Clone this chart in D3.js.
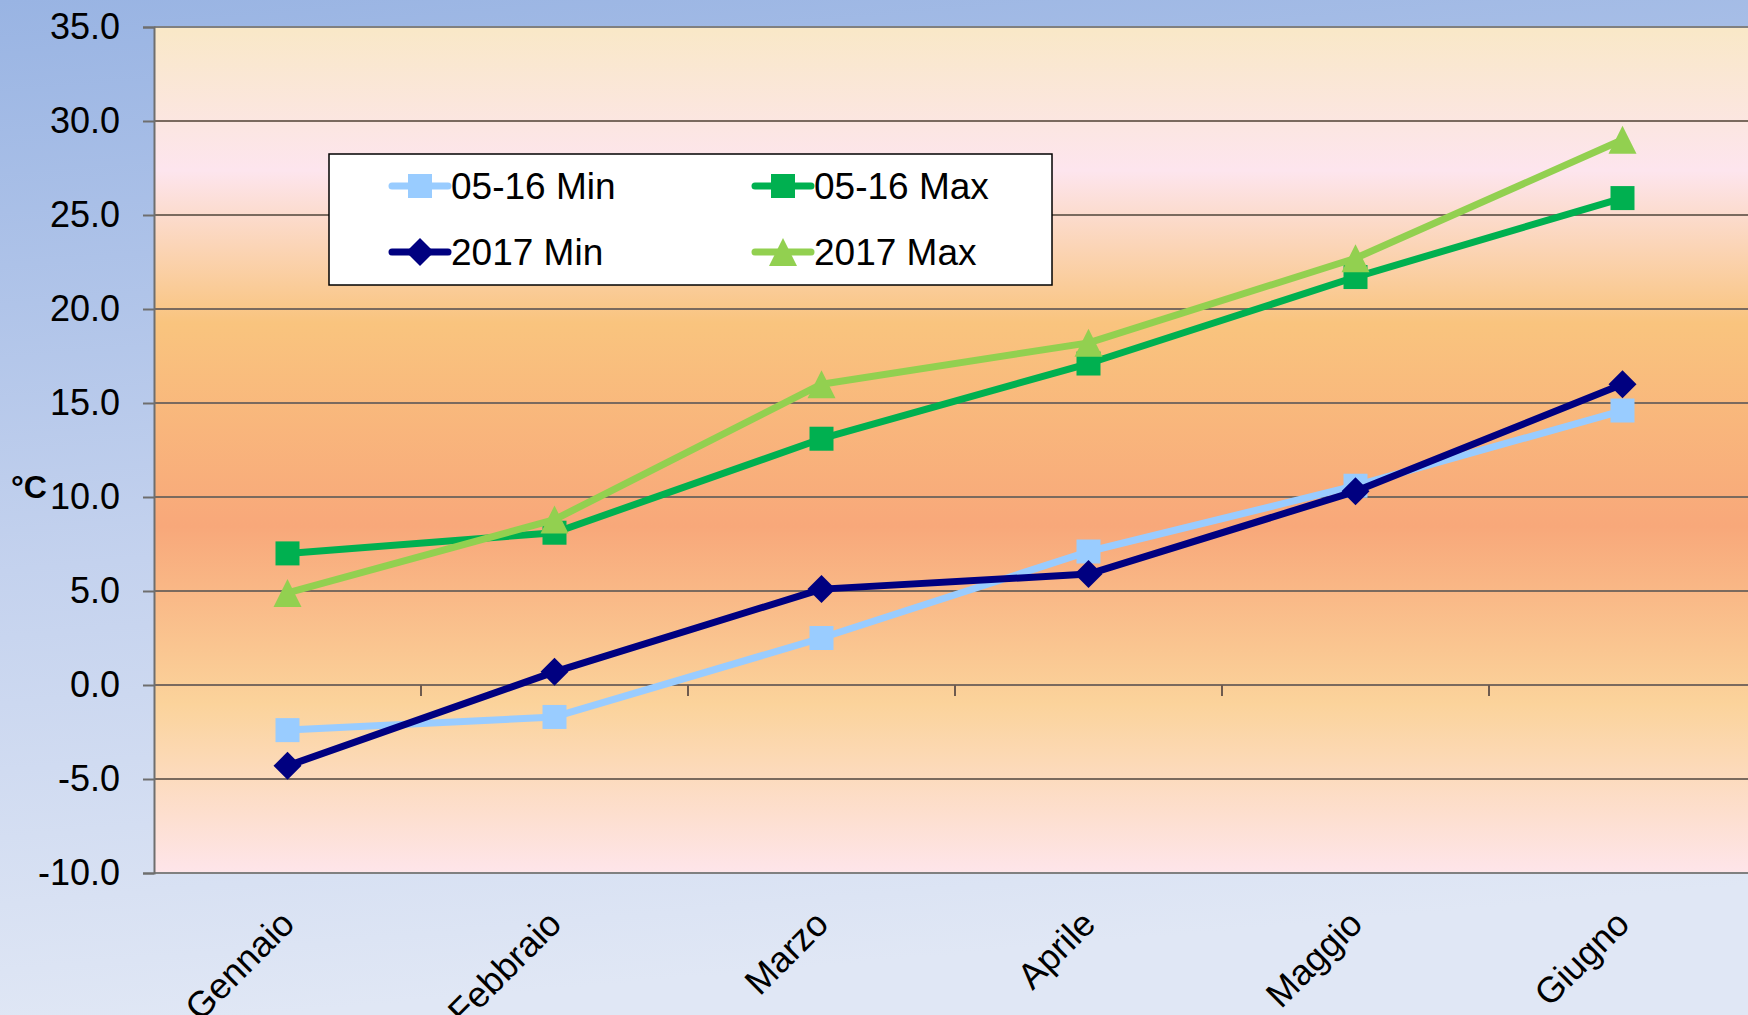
<!DOCTYPE html>
<html>
<head>
<meta charset="utf-8">
<script src="https://cdn.jsdelivr.net/npm/d3@7"></script>
<style>
  html, body { margin: 0; padding: 0; overflow: hidden; }
  svg { display: block; font-family: "Liberation Sans", Arial, sans-serif; }
</style>
</head>
<body>
<svg id="chart" width="1748" height="1015"></svg>
<script>
// data
const months = ["Gennaio", "Febbraio", "Marzo", "Aprile", "Maggio", "Giugno"];
const min0516 = [-2.4, -1.7, 2.5, 7.1, 10.6, 14.6];
const max0516 = [7.0, 8.1, 13.1, 17.1, 21.7, 25.9];
const min2017 = [-4.3, 0.7, 5.1, 5.9, 10.3, 16.0];
const max2017 = [4.9, 8.8, 16.0, 18.2, 22.7, 29.0];
const yTicks = [-10, -5, 0, 5, 10, 15, 20, 25, 30, 35];

const series = [
    {name: "05-16 Min", values: min0516, color: "#99ccff", marker: "square"},
    {name: "05-16 Max", values: max0516, color: "#00b050", marker: "square"},
    {name: "2017 Min", values: min2017, color: "#000080", marker: "diamond"},
    {name: "2017 Max", values: max2017, color: "#92d050", marker: "triangle"}
];

const W = 1748, H = 1015;
const margin = {left: 154, top: 27};
const plotBottom = 873;

const svg = d3.select("#chart");
const defs = svg.append("defs");

// outer background gradient
const bg = defs.append("linearGradient").attr("id", "bg")
    .attr("x1", 0).attr("y1", 0).attr("x2", 0.15).attr("y2", 1);
bg.append("stop").attr("offset", "0%").attr("stop-color", "#99b4e3");
bg.append("stop").attr("offset", "55%").attr("stop-color", "#c4d2ee");
bg.append("stop").attr("offset", "100%").attr("stop-color", "#e0e7f5");

// plot area gradient
const pg = defs.append("linearGradient").attr("id", "plotbg")
    .attr("x1", 0).attr("y1", 0).attr("x2", 0).attr("y2", 1);
[["0%", "#f9e8c7"], ["17%", "#fde5ee"], ["35%", "#f9c47e"],
 ["59%", "#f8a87a"], ["80%", "#fbd39b"], ["100%", "#fee5ea"]]
    .forEach(s => pg.append("stop").attr("offset", s[0]).attr("stop-color", s[1]));

svg.append("rect").attr("width", W).attr("height", H).attr("fill", "url(#bg)");

const x = d3.scaleBand().domain(months).range([margin.left, margin.left + 6 * 267]).padding(0);
const y = d3.scaleLinear().domain([-10, 35]).range([plotBottom, margin.top]);
const cx = m => x(m) + x.bandwidth() / 2;

svg.append("rect")
    .attr("x", margin.left).attr("y", margin.top)
    .attr("width", W - margin.left + 10).attr("height", plotBottom - margin.top)
    .attr("fill", "url(#plotbg)");

// gridlines
svg.append("g").selectAll("line").data(yTicks).join("line")
    .attr("x1", margin.left).attr("x2", W)
    .attr("y1", d => y(d)).attr("y2", d => y(d))
    .attr("stroke", d => (d === 35 || d === -10) ? "#808080" : "#7a6a5e")
    .attr("stroke-width", 2);

// y axis
const fmt = d3.formatLocale({decimal: ".", thousands: ",", grouping: [3], currency: ["", ""], minus: "-"}).format(".1f");
const yAxis = svg.append("g")
    .attr("transform", `translate(${margin.left},0)`)
    .call(d3.axisLeft(y).tickValues(yTicks).tickFormat(fmt).tickSize(11).tickPadding(23));
yAxis.select(".domain").attr("stroke", "#6e6e6e").attr("stroke-width", 2);
yAxis.selectAll(".tick line").attr("stroke", "#6e6e6e").attr("stroke-width", 2);
yAxis.selectAll(".tick text").attr("font-size", 36).attr("fill", "#000")
    .attr("font-family", "Liberation Sans, Arial, sans-serif");

// x tick marks at category boundaries, on the zero line
svg.append("g").selectAll("line").data(months.slice(1)).join("line")
    .attr("x1", d => x(d)).attr("x2", d => x(d))
    .attr("y1", y(0)).attr("y2", y(0) + 11)
    .attr("stroke", "#6e5a4e").attr("stroke-width", 2);

// x labels
svg.append("g").selectAll("text").data(months).join("text")
    .attr("transform", d => `translate(${cx(d) + 9},${926}) rotate(-45)`)
    .attr("text-anchor", "end")
    .attr("font-size", 36)
    .text(d => d);

// °C label
svg.append("text").attr("x", 11).attr("y", 498)
    .attr("font-size", 32).attr("font-weight", "bold").text("°C");

// markers
function markerPath(type) {
    if (type === "square") return d3.symbol(d3.symbolSquare, 24 * 24)();
    if (type === "diamond") return "M0,-14L14,0L0,14L-14,0Z";
    return "M0,-14L14,14L-14,14Z";
}

const line = d3.line().x(d => cx(d.m)).y(d => y(d.v));

series.forEach(s => {
    const pts = months.map((m, i) => ({m: m, v: s.values[i]}));
    const g = svg.append("g");
    g.append("path").datum(pts)
        .attr("d", line)
        .attr("fill", "none")
        .attr("stroke", s.color)
        .attr("stroke-width", 7)
        .attr("stroke-linejoin", "round");
    g.selectAll("path.mk").data(pts).join("path")
        .attr("class", "mk")
        .attr("transform", d => `translate(${cx(d.m)},${y(d.v)})`)
        .attr("d", markerPath(s.marker))
        .attr("fill", s.color);
});

// legend
const legend = svg.append("g");
legend.append("rect")
    .attr("x", 329).attr("y", 154).attr("width", 723).attr("height", 131)
    .attr("fill", "#fff").attr("stroke", "#000").attr("stroke-width", 1.5);

const legPos = [[392, 186], [755, 186], [392, 252], [755, 252]];
series.forEach((s, i) => {
    const [lx, ly] = legPos[i];
    const item = legend.append("g").attr("transform", `translate(${lx},${ly})`);
    item.append("line")
        .attr("x1", 0).attr("x2", 56).attr("y1", 0).attr("y2", 0)
        .attr("stroke", s.color).attr("stroke-width", 7).attr("stroke-linecap", "round");
    item.append("path")
        .attr("transform", "translate(28,0)")
        .attr("d", markerPath(s.marker))
        .attr("fill", s.color);
    item.append("text")
        .attr("x", 59).attr("y", 0).attr("dy", "0.36em")
        .attr("font-size", 37)
        .text(s.name);
});
</script>
</body>
</html>
